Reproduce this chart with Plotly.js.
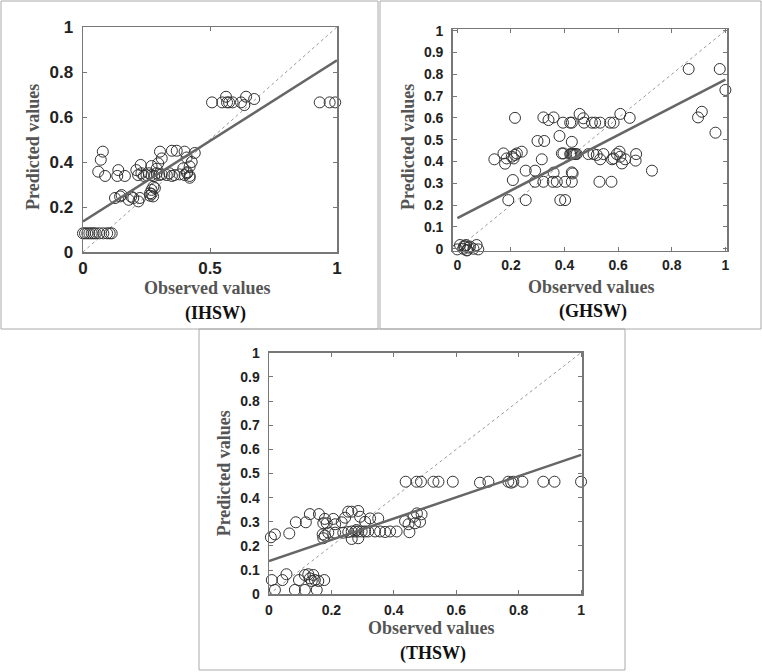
<!DOCTYPE html>
<html>
<head>
<meta charset="utf-8">
<script src="https://cdn.plot.ly/plotly-3.0.1.min.js"></script>
<style>
  html, body { margin: 0; padding: 0; background: #fff; }
  #chart { width: 762px; height: 672px; }
</style>
</head>
<body>
<div id="chart"></div>
<script>
// observed / predicted values
var ihsw_x = [0.0, 0.008, 0.017, 0.025, 0.034, 0.042, 0.05, 0.064, 0.08, 0.095, 0.105, 0.113,
  0.078, 0.07, 0.06, 0.087, 0.139, 0.135, 0.165, 0.21, 0.227,
  0.217, 0.23, 0.24, 0.25, 0.26, 0.27, 0.28, 0.29, 0.30, 0.31, 0.33, 0.34, 0.35, 0.36, 0.38, 0.40, 0.41, 0.42,
  0.27, 0.303, 0.31, 0.35, 0.369, 0.40, 0.408, 0.44, 0.428, 0.42, 0.296, 0.395, 0.29, 0.41, 0.42,
  0.126, 0.146, 0.152, 0.18, 0.19, 0.198, 0.218, 0.224, 0.264, 0.27, 0.276, 0.283, 0.277, 0.264, 0.27,
  0.508, 0.548, 0.563, 0.567, 0.575, 0.589, 0.622, 0.635, 0.642, 0.674,
  0.932, 0.971, 0.993]
var ihsw_y = [0.083, 0.083, 0.083, 0.083, 0.083, 0.083, 0.083, 0.083, 0.083, 0.083, 0.083, 0.083,
  0.446, 0.41, 0.357, 0.338, 0.364, 0.338, 0.338, 0.364, 0.387,
  0.342, 0.35, 0.338, 0.342, 0.35, 0.342, 0.338, 0.35, 0.342, 0.345, 0.342, 0.35, 0.338, 0.342, 0.345, 0.342, 0.35, 0.338,
  0.382, 0.446, 0.416, 0.45, 0.45, 0.446, 0.42, 0.44, 0.40, 0.38, 0.394, 0.372, 0.37, 0.355, 0.33,
  0.24, 0.247, 0.253, 0.232, 0.246, 0.24, 0.225, 0.24, 0.261, 0.276, 0.247, 0.284, 0.29, 0.25, 0.258,
  0.665, 0.665, 0.69, 0.665, 0.665, 0.665, 0.665, 0.653, 0.69, 0.68,
  0.665, 0.665, 0.665]
var ihsw_fit = [0.136, 0.852]

var ghsw_x = [0.0, 0.01, 0.016, 0.022, 0.028, 0.032, 0.037, 0.042, 0.047, 0.06, 0.072, 0.078, 0.035, 0.025,
  0.138, 0.172, 0.178, 0.184, 0.203, 0.215, 0.222, 0.24, 0.21,
  0.215, 0.207, 0.19, 0.255, 0.255, 0.29, 0.29, 0.321, 0.315, 0.299, 0.324,
  0.321, 0.34, 0.359, 0.359, 0.356, 0.371, 0.402, 0.384, 0.402, 0.381, 0.394, 0.39, 0.396,
  0.421, 0.427, 0.427, 0.421, 0.425, 0.43, 0.435, 0.44, 0.445, 0.427, 0.43, 0.427,
  0.456, 0.47, 0.473, 0.502, 0.514, 0.533, 0.489, 0.508, 0.52, 0.533, 0.53, 0.545,
  0.57, 0.583, 0.575, 0.577, 0.583, 0.595, 0.608, 0.605, 0.608, 0.614, 0.626, 0.643, 0.667, 0.665, 0.726,
  0.863, 0.979, 1.0, 0.898, 0.912, 0.963]
var ghsw_y = [-0.003, 0.017, -0.01, 0.0, 0.01, 0.017, -0.006, 0.005, 0.01, 0.0, 0.017, -0.003, -0.008, 0.012,
  0.41, 0.437, 0.39, 0.414, 0.422, 0.43, 0.437, 0.445, 0.414,
  0.6, 0.315, 0.223, 0.223, 0.358, 0.358, 0.307, 0.307, 0.41, 0.494, 0.494,
  0.602, 0.59, 0.602, 0.349, 0.307, 0.307, 0.307, 0.223, 0.223, 0.517, 0.578, 0.437, 0.437,
  0.578, 0.578, 0.49, 0.434, 0.434, 0.434, 0.434, 0.434, 0.434, 0.35, 0.345, 0.307,
  0.618, 0.598, 0.578, 0.578, 0.578, 0.578, 0.434, 0.434, 0.43, 0.41, 0.307, 0.434,
  0.578, 0.578, 0.307, 0.41, 0.414, 0.434, 0.618, 0.445, 0.422, 0.391, 0.41, 0.6, 0.434, 0.404, 0.358,
  0.824, 0.824, 0.728, 0.602, 0.628, 0.532]
var ghsw_fit = [0.14, 0.775]

var thsw_x = [0.006, 0.019, 0.009, 0.019, 0.043, 0.056, 0.065, 0.083, 0.086, 0.096, 0.115, 0.118,
  0.131, 0.115, 0.126, 0.131, 0.137, 0.142, 0.147, 0.153, 0.158, 0.177, 0.16,
  0.174, 0.179, 0.185, 0.172, 0.174, 0.179,
  0.19, 0.212, 0.238, 0.254, 0.265, 0.276, 0.286, 0.297, 0.308, 0.318, 0.34, 0.356, 0.372, 0.388, 0.409,
  0.233, 0.244, 0.254, 0.265, 0.286, 0.292, 0.308, 0.324, 0.35, 0.265, 0.286, 0.28, 0.212, 0.206,
  0.436, 0.447, 0.463, 0.474, 0.484, 0.489, 0.468, 0.45,
  0.438, 0.473, 0.487, 0.527, 0.543, 0.589, 0.676, 0.703, 0.767, 0.776, 0.783, 0.812, 0.879, 0.915, 1.0]
var thsw_y = [0.236, 0.248, 0.059, 0.018, 0.059, 0.083, 0.252, 0.018, 0.298, 0.059, 0.018, 0.298,
  0.332, 0.08, 0.083, 0.066, 0.055, 0.08, 0.059, 0.018, 0.055, 0.059, 0.332,
  0.294, 0.312, 0.294, 0.248, 0.232, 0.243,
  0.255, 0.255, 0.255, 0.258, 0.26, 0.26, 0.26, 0.26, 0.26, 0.26, 0.26, 0.26, 0.258, 0.26, 0.26,
  0.298, 0.317, 0.342, 0.342, 0.345, 0.321, 0.3, 0.314, 0.314, 0.229, 0.232, 0.266, 0.29, 0.312,
  0.303, 0.29, 0.321, 0.335, 0.3, 0.331, 0.294, 0.257,
  0.466, 0.466, 0.466, 0.466, 0.466, 0.466, 0.462, 0.466, 0.466, 0.462, 0.466, 0.466, 0.466, 0.466, 0.466]
var thsw_fit = [0.138, 0.577]

var ends = [0, 1]

var panels = [
  {x: ihsw_x, y: ihsw_y, fit: ihsw_fit, ax: ''},
  {x: ghsw_x, y: ghsw_y, fit: ghsw_fit, ax: '2'},
  {x: thsw_x, y: thsw_y, fit: thsw_fit, ax: '3'}
]

var data = []
for (let p of panels) {
  let xa = 'x' + p.ax, ya = 'y' + p.ax
  data.push({x: ends, y: ends, xaxis: xa, yaxis: ya, type: 'scatter', mode: 'lines',
    line: {color: '#999', width: 1, dash: 'dot'}, hoverinfo: 'skip'})
  data.push({x: p.x, y: p.y, xaxis: xa, yaxis: ya, type: 'scatter', mode: 'markers',
    cliponaxis: false,
    marker: {symbol: 'circle-open', size: 11, color: '#333', line: {width: 1}}})
  data.push({x: ends, y: p.fit, xaxis: xa, yaxis: ya, type: 'scatter', mode: 'lines',
    line: {color: '#666', width: 2.5}})
}

function axis(domain, range, dtick, anchor, size, standoff) {
  return {
    domain: domain, range: range, dtick: dtick, tick0: 0, anchor: anchor,
    showgrid: false, zeroline: false, showline: true, mirror: 'ticks',
    linecolor: '#777', linewidth: 1.5, ticks: 'inside', ticklen: 4, tickcolor: '#777',
    ticklabelstandoff: standoff,
    tickfont: {family: 'Liberation Sans, Arial, sans-serif', size: size, color: '#222', weight: 'bold'}
  }
}

var W = 762, H = 672
function px(v) { return v / W }
function py(v) { return 1 - v / H }

var titleFont = {family: 'Liberation Serif, Times New Roman, serif', size: 18, color: '#555', weight: 'bold'}
var labelFont = {family: 'Liberation Serif, Times New Roman, serif', size: 18, color: '#111', weight: 'bold'}

function note(text, x, y, font, angle) {
  return {text: text, x: px(x), y: py(y), xref: 'paper', yref: 'paper', showarrow: false,
    xanchor: 'center', yanchor: 'middle', font: font, textangle: angle || 0}
}

function frame(x0, y0, x1, y1) {
  return {type: 'rect', xref: 'paper', yref: 'paper', x0: px(x0), x1: px(x1), y0: py(y1), y1: py(y0),
    line: {color: '#aaa', width: 1}}
}

var layout = {
  width: W, height: H,
  margin: {l: 0, r: 0, t: 0, b: 0},
  paper_bgcolor: '#fff', plot_bgcolor: '#fff',
  showlegend: false,
  xaxis: axis([px(83), px(337)], [0, 1], 0.5, 'y', 17, 0),
  yaxis: axis([py(252), py(27)], [0, 1], 0.2, 'x', 17, 5),
  xaxis2: axis([px(452.7), px(727)], [-0.0174, 1.006], 0.2, 'y2', 14, 1),
  yaxis2: axis([py(250.7), py(29.3)], [-0.009, 1.006], 0.1, 'x2', 14, 5),
  xaxis3: axis([px(269), px(582.3)], [0, 1.004], 0.2, 'y3', 14, 2),
  yaxis3: axis([py(594.3), py(352.7)], [0, 1], 0.1, 'x3', 14, 5),
  shapes: [
    frame(1, 1, 378, 329),
    frame(380, 1, 761, 329),
    frame(199, 329, 625, 670)
  ],
  annotations: [
    note('Observed values', 207, 288, titleFont),
    note('(IHSW)', 215, 313, labelFont),
    note('Predicted values', 33, 147, titleFont, -90),
    note('Observed values', 591.7, 286.7, titleFont),
    note('(GHSW)', 593, 311.7, labelFont),
    note('Predicted values', 408, 147, titleFont, -90),
    note('Observed values', 431.7, 628.3, titleFont),
    note('(THSW)', 433, 653.3, labelFont),
    note('Predicted values', 224.3, 473, titleFont, -90)
  ]
}

Plotly.newPlot('chart', data, layout, {displayModeBar: false, staticPlot: true})
</script>
</body>
</html>
